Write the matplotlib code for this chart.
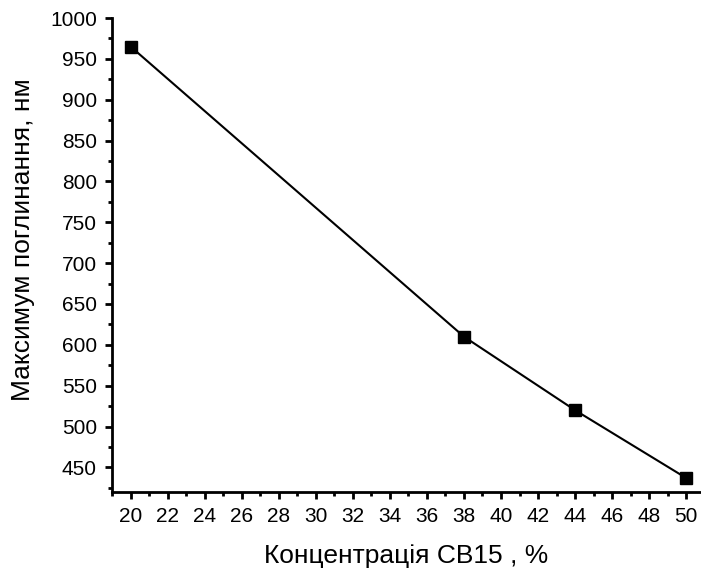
import matplotlib
matplotlib.use('Agg')
import matplotlib.pyplot as plt
from matplotlib.ticker import MultipleLocator

# Data
conc = [20, 38, 44, 50]                 # CB15 concentration, %
abs_max = [965, 610, 520, 437]          # absorption maximum, nm

plt.rcParams['font.family'] = ['Liberation Sans', 'DejaVu Sans']

fig = plt.figure(figsize=(7.01, 5.72), dpi=100)
ax = fig.add_axes([0.16, 0.14, 0.84, 0.8285])

ax.plot(conc, abs_max, color='black', linewidth=1.5, marker='s', markersize=8.5)

ax.set_xlim(19, 50.8)
ax.set_ylim(420, 1000)
ax.xaxis.set_major_locator(MultipleLocator(2))
ax.xaxis.set_minor_locator(MultipleLocator(1))
ax.yaxis.set_major_locator(MultipleLocator(50))
ax.yaxis.set_minor_locator(MultipleLocator(25))
ax.set_yticks(range(450, 1001, 50))

for side in ['top', 'right']:
	ax.spines[side].set_visible(False)
for side in ['left', 'bottom']:
	ax.spines[side].set_linewidth(2)

ax.tick_params(which='major', direction='out', length=5, width=2, labelsize=15, pad=6)
ax.tick_params(which='minor', direction='out', length=3, width=2)

ax.set_xlabel('Концентрація CB15 , %', fontsize=19, labelpad=13)
ax.set_ylabel('Максимум поглинання, нм', fontsize=19, labelpad=11, y=0.532)

fig.savefig('out.png', dpi=100)
